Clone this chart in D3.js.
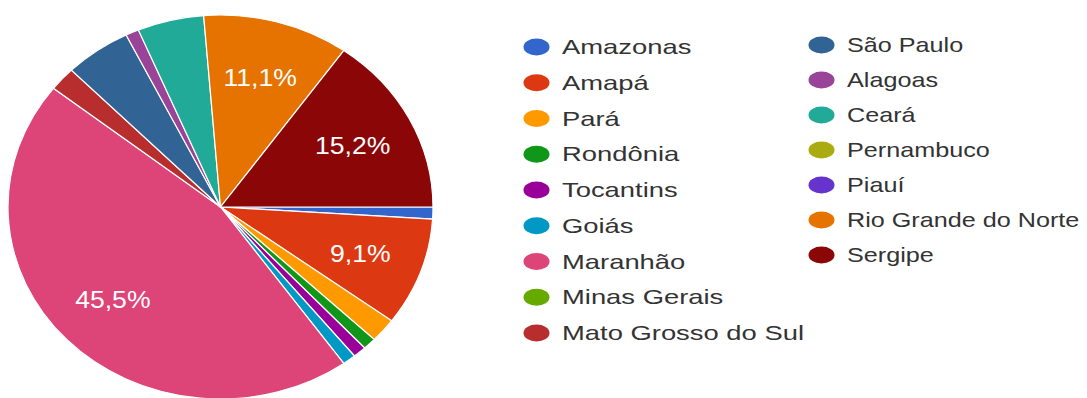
<!DOCTYPE html>
<html>
<head>
<meta charset="utf-8">
<script src="https://cdn.jsdelivr.net/npm/d3@7"></script>
<style>
  html, body { margin: 0; padding: 0; background: #ffffff; }
  svg { display: block; }
</style>
</head>
<body>
<svg id="chart" width="1087" height="398"></svg>
<script>
// Respondents per state
const states = ["Amazonas", "Amapá", "Pará", "Rondônia", "Tocantins", "Goiás", "Maranhão",
  "Minas Gerais", "Mato Grosso do Sul", "São Paulo", "Alagoas", "Ceará", "Pernambuco",
  "Piauí", "Rio Grande do Norte", "Sergipe"];
const counts = [1, 9, 2, 1, 1, 1, 45, 0, 2, 5, 1, 5, 0, 0, 11, 15];
const colors = ["#3366cc", "#dc3912", "#ff9900", "#109618", "#990099", "#0099c6", "#dd4477",
  "#66aa00", "#b82e2e", "#316395", "#994499", "#22aa99", "#aaaa11", "#6633cc", "#e67300", "#8b0707"];

const data = states.map((s, i) => ({ state: s, count: counts[i] }));
const total = d3.sum(counts);

const ptBR = d3.formatLocale({ decimal: ",", thousands: ".", grouping: [3], currency: ["R$", ""] });
const pct = ptBR.format(".1%");

const svg = d3.select("#chart");

// Pie geometry
const cx = 220.5, cy = 207, r = 192, stretchX = 212.5 / 192;
const labelMinShare = 0.08;

const color = d3.scaleOrdinal().domain(states).range(colors);

const pie = d3.pie()
  .sort(null)
  .value(d => d.count)
  .startAngle(Math.PI / 2)
  .endAngle(Math.PI / 2 + 2 * Math.PI);

const arc = d3.arc().innerRadius(0).outerRadius(r);
const labelArc = d3.arc().innerRadius(r * 0.7).outerRadius(r * 0.7);

const g = svg.append("g")
  .attr("transform", `translate(${cx},${cy}) scale(${stretchX},1)`);

const arcs = pie(data).filter(d => d.data.count > 0);

g.selectAll("path.slice")
  .data(arcs)
  .join("path")
  .attr("class", "slice")
  .attr("d", arc)
  .attr("fill", d => color(d.data.state))
  .attr("stroke", "#ffffff")
  .attr("stroke-width", 1.2)
  .attr("vector-effect", "non-scaling-stroke");

g.selectAll("text.pct")
  .data(arcs.filter(d => d.data.count / total >= labelMinShare))
  .join("text")
  .attr("class", "pct")
  .attr("transform", d => `translate(${labelArc.centroid(d)})`)
  .attr("text-anchor", "middle")
  .attr("dominant-baseline", "central")
  .attr("fill", "#ffffff")
  .style("font-family", "'Liberation Sans', Arial, sans-serif")
  .style("font-size", "24px")
  .text(d => pct(d.data.count / total));

// Legend: two columns
const legendCols = [
  { markerX: 536.5, textX: 562, y0: 47, step: 35.75, stretch: 1.37 },
  { markerX: 821.5, textX: 847, y0: 45, step: 35, stretch: 1.26 }
];
const perCol = 9;
const colOf = i => legendCols[i < perCol ? 0 : 1];

const items = svg.append("g").attr("class", "legend")
  .selectAll("g.item")
  .data(data)
  .join("g")
  .attr("class", "item")
  .attr("transform", (d, i) => {
    const row = i < perCol ? i : i - perCol;
    return `translate(0,${colOf(i).y0 + row * colOf(i).step})`;
  });

items.append("ellipse")
  .attr("cx", (d, i) => colOf(i).markerX)
  .attr("cy", 0)
  .attr("rx", 13)
  .attr("ry", 8.5)
  .attr("fill", d => color(d.state));

items.append("text")
  .attr("transform", (d, i) => `translate(${colOf(i).textX},0) scale(${colOf(i).stretch},1)`)
  .attr("dominant-baseline", "central")
  .attr("fill", "#333333")
  .style("font-family", "'Liberation Sans', Arial, sans-serif")
  .style("font-size", "20px")
  .text(d => d.state);
</script>
</body>
</html>
